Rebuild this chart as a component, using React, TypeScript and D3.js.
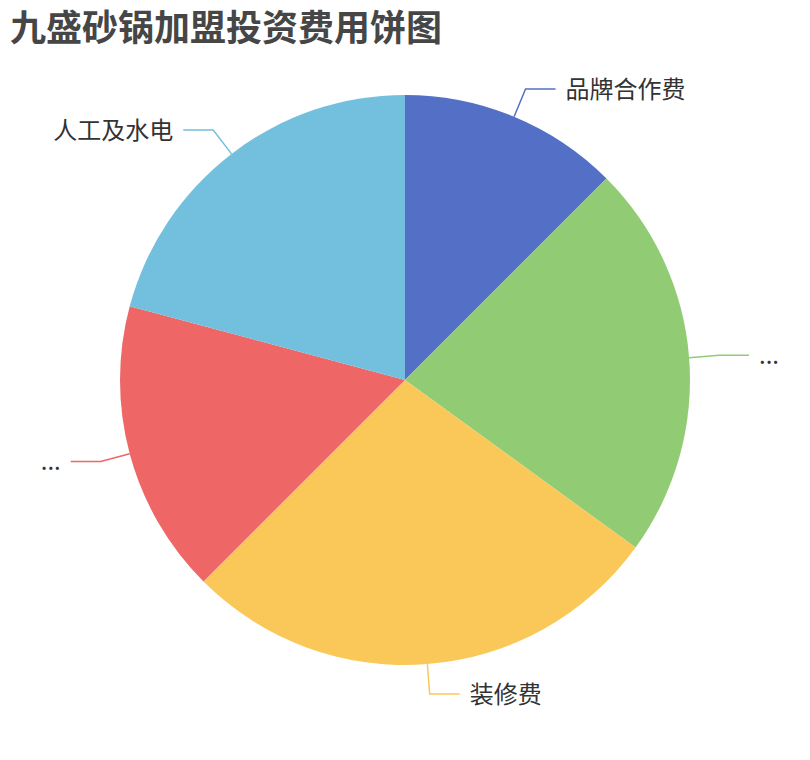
import * as d3 from "d3";
import React, { useEffect, useRef } from "react";

// 九盛砂锅加盟投资费用 (万元)
const categories: string[] = ["品牌合作费", "设备及原料费", "装修费", "店面租金及押金", "人工及水电"];
const labelTexts: string[] = ["品牌合作费", "...", "装修费", "...", "人工及水电"];
const values: number[] = [15, 27, 33, 20, 25];
const colors: string[] = ["#5470c6", "#91cc75", "#fac858", "#ee6666", "#73c0de"];

const title = "九盛砂锅加盟投资费用饼图";

interface Slice {
    name: string;
    label: string;
    value: number;
    color: string;
}

const width = 810;
const height = 760;

export class PieChart {
    svg: d3.Selection<SVGSVGElement | null, unknown, null, undefined>;
    data: Slice[];

    constructor(svgRef: React.RefObject<SVGSVGElement>, data: Slice[]) {
        this.svg = d3.select(svgRef.current);
        this.data = data;
    }

    draw() {
        this.svg.selectAll("*").remove();

        const cx = 405;
        const cy = 380;
        const radius = 285;
        const length1 = 30;
        const length2 = 30;

        this.svg
            .append("text")
            .attr("x", 10)
            .attr("y", 41)
            .attr("font-family", "'Noto Sans CJK SC', 'Noto Sans', sans-serif")
            .attr("font-size", 36)
            .attr("font-weight", "bold")
            .attr("fill", "#464646")
            .text(title);

        const pie = d3
            .pie<Slice>()
            .value((d) => d.value)
            .sort(null);

        const arc = d3
            .arc<d3.PieArcDatum<Slice>>()
            .innerRadius(0)
            .outerRadius(radius);

        const arcs = pie(this.data);

        const g = this.svg.append("g").attr("transform", `translate(${cx},${cy})`);

        g.selectAll("path.slice")
            .data(arcs)
            .enter()
            .append("path")
            .attr("class", "slice")
            .attr("d", arc)
            .attr("fill", (d) => d.data.color);

        arcs.forEach((d) => {
            const mid = (d.startAngle + d.endAngle) / 2;
            const sx = Math.sin(mid);
            const sy = -Math.cos(mid);
            const p0: [number, number] = [sx * radius, sy * radius];
            const p1: [number, number] = [sx * (radius + length1), sy * (radius + length1)];
            const right = sx >= 0;
            const p2: [number, number] = [p1[0] + (right ? length2 : -length2), p1[1]];

            g.append("path")
                .attr("d", d3.line()([p0, p1, p2]))
                .attr("fill", "none")
                .attr("stroke", d.data.color)
                .attr("stroke-width", 1.5);

            g.append("text")
                .attr("x", p2[0] + (right ? 10 : -10))
                .attr("y", p2[1])
                .attr("dy", "-0.08em")
                .attr("dominant-baseline", "central")
                .attr("text-anchor", right ? "start" : "end")
                .attr("font-family", "'Noto Sans CJK SC', 'Noto Sans', sans-serif")
                .attr("font-size", 24)
                .attr("fill", "#333")
                .text(d.data.label);
        });
    }
}

const App: React.FC = () => {
    const svgRef = useRef<SVGSVGElement>(null);

    useEffect(() => {
        if (!svgRef.current) return;
        const data: Slice[] = categories.map((name, i) => ({
            name,
            label: labelTexts[i],
            value: values[i],
            color: colors[i],
        }));
        const chart = new PieChart(svgRef, data);
        chart.draw();
    }, []);

    return (
        <svg
            ref={svgRef}
            width={width}
            height={height}
            style={{ position: "absolute", left: 0, top: 0, background: "#fff" }}
        />
    );
};

export default App;
